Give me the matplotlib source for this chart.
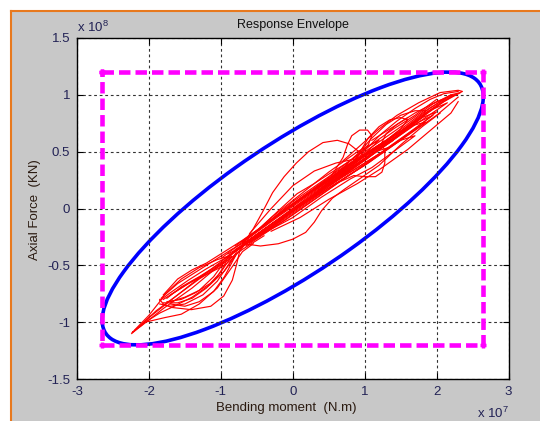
import matplotlib
matplotlib.use("Agg")
import matplotlib.pyplot as plt
import numpy as np
from matplotlib.patches import Ellipse, Rectangle
from matplotlib.lines import Line2D
from matplotlib.transforms import Affine2D

plt.rcParams["font.family"] = ["Liberation Sans", "DejaVu Sans"]
plt.rcParams["mathtext.fontset"] = "custom"
plt.rcParams["mathtext.rm"] = "Liberation Sans"
plt.rcParams["mathtext.it"] = "Liberation Sans:italic"

# axis ticks (moment in 1e7 N.m, force in 1e8)
x_ticks = [-3, -2, -1, 0, 1, 2, 3]
x_tick_labels = ["-3", "-2", "-1", "0", "1", "2", "3"]
y_ticks = [-1.5, -1, -0.5, 0, 0.5, 1, 1.5]
y_tick_labels = ["-1.5", "-1", "-0.5", "0", "0.5", "1", "1.5"]

# envelope: rectangle half sizes and ellipse correlation
env_m = 2.65
env_n = 1.2
env_corr = 0.82

rect_x = [-env_m, env_m, env_m, -env_m, -env_m]
rect_y = [env_n, env_n, -env_n, -env_n, env_n]

loop_01 = [(-2.23, -1.09), (-2.0, -0.96), (-1.7, -0.81), (-1.4, -0.66), (-1.0, -0.47), (-0.68, -0.31),
           (-0.3, -0.14), (0.2, 0.08), (0.7, 0.30), (1.2, 0.52), (1.7, 0.76), (2.1, 0.94), (2.33, 1.02),
           (2.2, 1.0), (1.8, 0.84), (1.3, 0.60), (0.8, 0.37), (0.3, 0.14), (-0.2, -0.09), (-0.62, -0.28),
           (-1.0, -0.49), (-1.4, -0.70), (-1.8, -0.88), (-2.1, -1.03), (-2.23, -1.09)]
loop_02 = [(1.0, 0.42), (1.4, 0.62), (1.8, 0.82), (2.1, 0.95), (2.3, 1.01), (2.36, 1.03), (2.3, 1.04),
           (2.05, 1.02), (1.75, 0.93), (1.45, 0.82), (1.2, 0.70), (0.95, 0.56), (0.7, 0.42)]
loop_03 = [(0.6, 0.30), (0.9, 0.48), (1.1, 0.62), (1.3, 0.74), (1.5, 0.82), (1.7, 0.86), (1.85, 0.86),
           (1.8, 0.80), (1.55, 0.68), (1.25, 0.55), (0.95, 0.40), (0.6, 0.24)]
loop_04 = [(-0.68, -0.30), (-0.55, -0.18), (-0.42, -0.03), (-0.28, 0.14), (-0.12, 0.28), (0.05, 0.40),
           (0.22, 0.50), (0.42, 0.58), (0.62, 0.60), (0.78, 0.57), (0.9, 0.51), (1.0, 0.46), (1.25, 0.55),
           (1.5, 0.66), (1.75, 0.78)]
loop_05 = [(-0.68, -0.31), (-0.45, -0.33), (-0.2, -0.31), (0.0, -0.27), (0.18, -0.21), (0.3, -0.12),
           (0.4, -0.02), (0.55, 0.09), (0.72, 0.17), (0.95, 0.27), (1.2, 0.38), (1.5, 0.56), (1.8, 0.72),
           (2.05, 0.84)]
loop_06 = [(0.6, 0.22), (0.85, 0.29), (1.0, 0.28), (1.15, 0.28), (1.24, 0.32), (1.28, 0.40), (1.28, 0.50),
           (1.24, 0.58), (1.3, 0.66), (1.45, 0.74), (1.6, 0.80)]
loop_07 = [(0.55, 0.30), (0.7, 0.45), (0.76, 0.56), (0.82, 0.64), (0.93, 0.69), (1.04, 0.69), (1.1, 0.64),
           (1.05, 0.56), (0.95, 0.50), (0.85, 0.42)]
loop_08 = [(0.9, 0.46), (1.05, 0.62), (1.2, 0.72), (1.35, 0.78), (1.5, 0.80), (1.6, 0.78), (1.5, 0.70),
           (1.3, 0.60)]
loop_09 = [(-2.2, -1.07), (-2.0, -0.94), (-1.85, -0.82), (-1.78, -0.76), (-1.6, -0.66), (-1.35, -0.56),
           (-1.1, -0.46), (-0.85, -0.36), (-0.65, -0.29), (-0.8, -0.42), (-0.95, -0.55), (-1.15, -0.67),
           (-1.4, -0.78), (-1.65, -0.86), (-1.85, -0.92), (-2.05, -1.0)]
loop_10 = [(-1.85, -0.80), (-1.8, -0.84), (-1.69, -0.87), (-1.41, -0.89), (-1.14, -0.86), (-0.96, -0.77),
           (-0.84, -0.63), (-0.78, -0.49), (-0.74, -0.38), (-0.66, -0.31)]
loop_11 = [(-1.83, -0.79), (-1.72, -0.72), (-1.55, -0.62), (-1.3, -0.52), (-1.05, -0.45), (-0.9, -0.42),
           (-0.95, -0.5), (-1.05, -0.6), (-1.2, -0.7), (-1.4, -0.79), (-1.6, -0.83), (-1.8, -0.83)]
loop_12 = [(-1.75, -0.79), (-1.55, -0.69), (-1.3, -0.6), (-1.05, -0.5), (-0.85, -0.42), (-1.0, -0.56),
           (-1.15, -0.66), (-1.35, -0.74), (-1.55, -0.8), (-1.75, -0.82)]
loop_13 = [(-1.8, -0.8), (-1.6, -0.72), (-1.4, -0.64), (-1.15, -0.55), (-0.95, -0.47), (-1.1, -0.6),
           (-1.3, -0.72), (-1.5, -0.78), (-1.7, -0.82)]
loop_14 = [(-2.24, -1.10), (-2.05, -1.0), (-1.78, -0.96), (-1.55, -0.93), (-1.3, -0.84), (-1.05, -0.7),
           (-0.85, -0.52), (-0.7, -0.38), (-0.55, -0.31)]
loop_15 = [(-1.8, -0.76), (-1.6, -0.62), (-1.4, -0.54), (-1.2, -0.48), (-0.95, -0.38), (-0.7, -0.28),
           (-0.45, -0.17), (-0.2, -0.02), (0.06, 0.13), (0.3, 0.22), (0.52, 0.31), (0.8, 0.42), (1.0, 0.51),
           (1.22, 0.65), (1.45, 0.77), (1.7, 0.88), (1.91, 0.96), (2.1, 1.01), (2.3, 1.03)]
loop_16 = [(-0.75, -0.36), (-0.3, -0.16), (0.2, 0.06), (0.7, 0.28), (1.2, 0.48), (1.6, 0.66), (1.95, 0.82),
           (1.75, 0.76), (1.3, 0.58), (0.8, 0.38), (0.3, 0.15), (-0.2, -0.07), (-0.7, -0.30)]
loop_17 = [(-0.65, -0.33), (-0.2, -0.14), (0.3, 0.08), (0.8, 0.30), (1.3, 0.52), (1.7, 0.70), (2.0, 0.85),
           (1.8, 0.80), (1.4, 0.64), (0.9, 0.44), (0.4, 0.22), (-0.1, 0.0), (-0.6, -0.25)]
loop_18 = [(-0.9, -0.42), (-0.4, -0.2), (0.1, 0.02), (0.6, 0.26), (1.0, 0.44), (1.4, 0.60), (1.2, 0.56),
           (0.7, 0.34), (0.2, 0.12), (-0.3, -0.10), (-0.8, -0.33)]
loop_19 = [(-0.7, -0.31), (-0.3, -0.08), (0.1, 0.12), (0.5, 0.32), (0.9, 0.50), (1.2, 0.60), (1.0, 0.48),
           (0.6, 0.28), (0.2, 0.08), (-0.2, -0.12), (-0.6, -0.30)]
loop_20 = [(-0.5, -0.25), (0.0, -0.08), (0.4, 0.10), (0.8, 0.26), (1.1, 0.36), (1.4, 0.50), (1.7, 0.64),
           (1.5, 0.60), (1.1, 0.44), (0.6, 0.24), (0.1, 0.02), (-0.4, -0.2)]
loop_21 = [(-0.6, -0.22), (-0.3, 0.0), (0.0, 0.2), (0.3, 0.33), (0.6, 0.4), (0.9, 0.44), (0.6, 0.32),
           (0.3, 0.18), (0.0, 0.04), (-0.4, -0.16)]
loop_22 = [(1.2, 0.52), (1.6, 0.7), (1.95, 0.88), (2.2, 0.98), (2.25, 1.0), (2.0, 0.94), (1.7, 0.84),
           (1.4, 0.72), (1.1, 0.6)]
loop_23 = [(-0.3, -0.2), (0.1, -0.08), (0.5, 0.08), (0.9, 0.22), (1.2, 0.34), (1.6, 0.52), (1.9, 0.68),
           (2.2, 0.84), (2.3, 0.94)]
loop_24 = [(-0.7, -0.32), (-0.2, -0.12), (0.3, 0.12), (0.8, 0.34), (1.3, 0.56), (1.8, 0.78), (2.15, 0.93),
           (1.9, 0.86), (1.5, 0.68), (1.0, 0.46), (0.5, 0.22), (0.0, -0.02), (-0.5, -0.24)]
loop_25 = [(-0.6, -0.29), (-0.1, -0.06), (0.4, 0.16), (0.9, 0.38), (1.35, 0.58), (1.65, 0.72), (1.45, 0.66),
           (1.0, 0.48), (0.5, 0.26), (0.0, 0.04), (-0.5, -0.2)]
loop_26 = [(-0.8, -0.36), (-0.35, -0.18), (0.15, 0.04), (0.65, 0.24), (1.05, 0.40), (1.45, 0.58), (1.85, 0.76),
           (1.6, 0.72), (1.2, 0.56), (0.75, 0.36), (0.25, 0.14), (-0.25, -0.08), (-0.7, -0.29)]
loop_27 = [(-0.4, -0.2), (0.0, -0.02), (0.45, 0.2), (0.95, 0.42), (1.5, 0.68), (1.9, 0.88), (2.2, 1.0),
           (1.95, 0.92), (1.55, 0.74), (1.05, 0.52), (0.55, 0.28), (0.05, 0.06)]
loop_28 = [(-0.55, -0.27), (-0.1, -0.1), (0.35, 0.1), (0.75, 0.28), (1.15, 0.45), (1.35, 0.54), (1.15, 0.5),
           (0.7, 0.32), (0.25, 0.14), (-0.2, -0.06)]
loop_29 = [(-0.9, -0.4), (-0.5, -0.26), (0.0, -0.04), (0.5, 0.18), (1.0, 0.38), (1.5, 0.6), (2.0, 0.82),
           (2.3, 0.98)]
loop_30 = [(-1.0, -0.44), (-0.5, -0.2), (0.0, 0.06), (0.5, 0.28), (1.0, 0.52), (1.4, 0.7), (1.7, 0.82),
           (2.0, 0.96)]
loop_31 = [(-1.85, -0.81), (-1.7, -0.74), (-1.45, -0.63), (-1.2, -0.53), (-0.95, -0.44), (-0.75, -0.35),
           (-0.9, -0.5), (-1.05, -0.64), (-1.25, -0.76), (-1.5, -0.84), (-1.7, -0.86), (-1.85, -0.84)]
loop_32 = [(-1.7, -0.76), (-1.45, -0.66), (-1.2, -0.58), (-0.95, -0.5), (-0.8, -0.42), (-0.95, -0.6),
           (-1.1, -0.73), (-1.3, -0.82), (-1.5, -0.86), (-1.7, -0.84)]
loop_33 = [(-2.1, -1.02), (-1.9, -0.9), (-1.6, -0.76), (-1.3, -0.62), (-1.0, -0.5), (-0.7, -0.36),
           (-0.4, -0.24)]

red_loops = [loop_01, loop_02, loop_03, loop_04, loop_05, loop_06, loop_07, loop_08, loop_09, loop_10,
             loop_11, loop_12, loop_13, loop_14, loop_15, loop_16, loop_17, loop_18, loop_19, loop_20,
             loop_21, loop_22, loop_23, loop_24, loop_25, loop_26, loop_27, loop_28, loop_29, loop_30,
             loop_31, loop_32, loop_33]

W, H = 540, 421
fig = plt.figure(figsize=(W / 100, H / 100), dpi=100, facecolor="white")

# window-like grey frame with orange edge
fig.patches.append(Rectangle((12 / W, 0), 1, 1 - 12 / H, transform=fig.transFigure,
                             facecolor="#C8C8C8", edgecolor="none", zorder=-10))
fig.lines.append(Line2D([11 / W, 1], [1 - 11 / H] * 2, transform=fig.transFigure, color="#E8791E", lw=1.5))
fig.lines.append(Line2D([11 / W] * 2, [0, 1 - 11 / H], transform=fig.transFigure, color="#E8791E", lw=1.5))

ax = fig.add_axes([77 / W, 1 - 379 / H, (508.5 - 77) / W, (379 - 38) / H])
ax.set_facecolor("white")

for loop in red_loops:
    xs, ys = zip(*loop)
    ax.plot(xs, ys, color="#FF0000", lw=0.85, solid_joinstyle="round")

ell = Ellipse((0, 0), width=2 * np.sqrt(1 + env_corr), height=2 * np.sqrt(1 - env_corr), angle=45,
              transform=Affine2D().scale(env_m, env_n) + ax.transData,
              fill=False, edgecolor="#0000FF", lw=2.6)
ax.add_patch(ell)

ax.plot(rect_x, rect_y, color="#FF00FF", lw=3.3, linestyle=(0, (2.5, 1.1)),
        marker="+", markersize=5, markeredgewidth=2.5)

ax.set_xlim(-3, 3)
ax.set_ylim(-1.5, 1.5)
ax.set_xticks(x_ticks, x_tick_labels)
ax.set_yticks(y_ticks, y_tick_labels)
ax.tick_params(direction="in", length=4, top=True, right=True, labelsize=9.5, pad=5,
               labelcolor="#222255", width=0.8)
ax.grid(True, color="#333333", linestyle=(0, (2.5, 2.5)), lw=0.8)
for sp in ax.spines.values():
    sp.set_linewidth(1.0)

ax.text(0.5, 1 + (38 - 27.7) / 341, "Response Envelope", transform=ax.transAxes,
        ha="center", va="baseline", fontsize=9, color="#111111")
ax.text(0.0, 1 + 6 / 341, "x 10$^{8}$", transform=ax.transAxes,
        ha="left", va="baseline", fontsize=9.5, color="#222255")
ax.text(1.0, -(418 - 379) / 341, "x 10$^{7}$", transform=ax.transAxes,
        ha="right", va="baseline", fontsize=9.5, color="#222255")
ax.text((286 - 77) / 431.5, -(411 - 379) / 341, "Bending moment  (N.m)", transform=ax.transAxes,
        ha="center", va="baseline", fontsize=9.5, color="#2a1a10")
fig.text(35 / W, 1 - 210 / H, "Axial Force  (KN)", rotation=90, ha="center", va="center",
         fontsize=9.5, color="#2a1a10")

fig.savefig("out.png", dpi=100, facecolor=fig.get_facecolor())
